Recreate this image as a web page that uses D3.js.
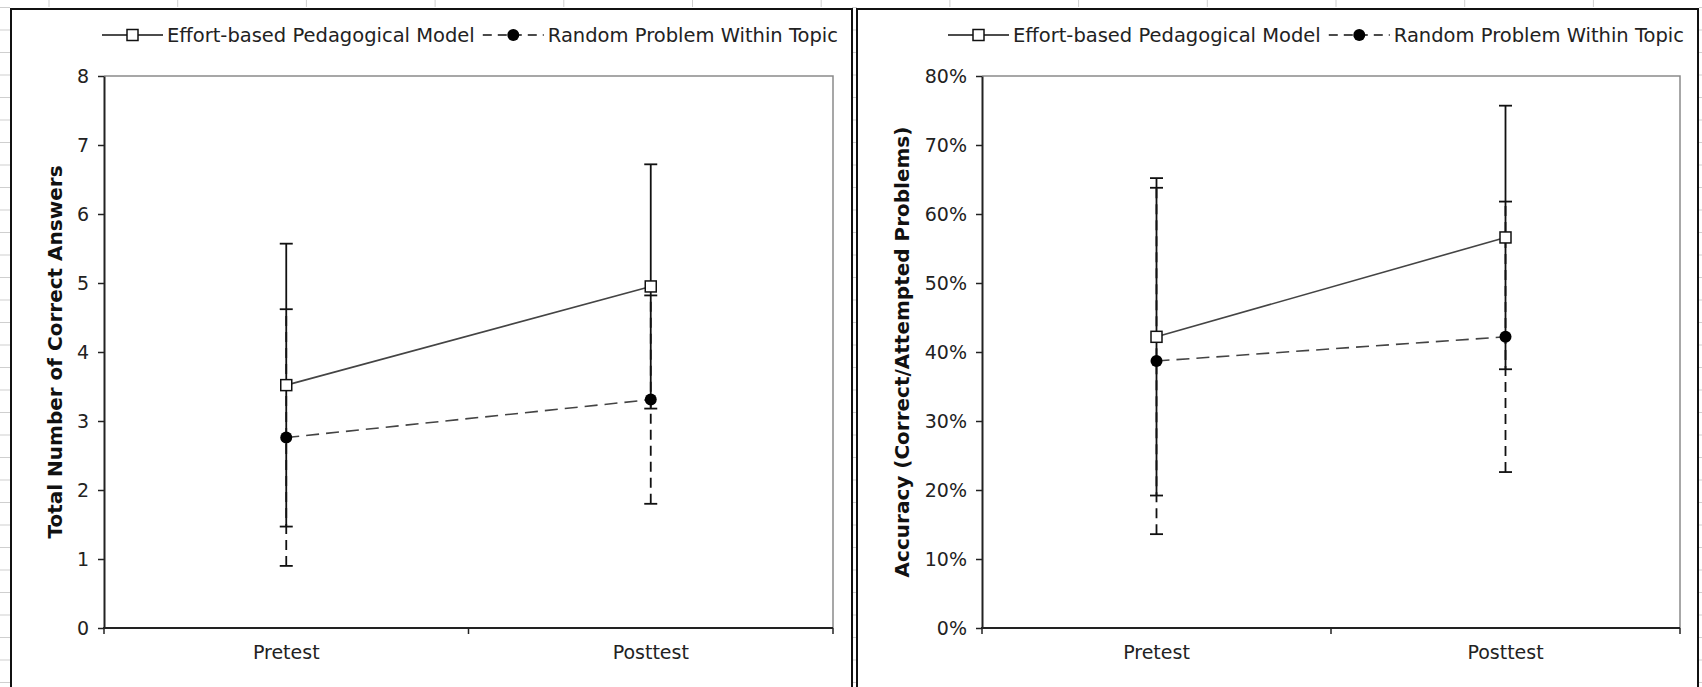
<!DOCTYPE html>
<html>
<head>
<meta charset="utf-8">
<script src="https://cdn.jsdelivr.net/npm/d3@7"></script>
<style>
  body { margin: 0; background: #fff; }
  svg { display: block; font-family: "DejaVu Sans", Verdana, sans-serif; }
</style>
</head>
<body>
<svg id="chart" width="1702" height="687"></svg>
<script>
// data
const tests = ["Pretest", "Posttest"];
const seriesNames = ["Effort-based Pedagogical Model", "Random Problem Within Topic"];

const correctEffort = [3.52, 4.95];
const correctEffortSd = [2.05, 1.77];
const correctRandom = [2.76, 3.31];
const correctRandomSd = [1.86, 1.51];

const accuracyEffort = [0.422, 0.566];
const accuracyEffortSd = [0.230, 0.191];
const accuracyRandom = [0.387, 0.422];
const accuracyRandomSd = [0.251, 0.196];

const correctTicks = [0, 1, 2, 3, 4, 5, 6, 7, 8];
const accuracyTicks = [0, 0.1, 0.2, 0.3, 0.4, 0.5, 0.6, 0.7, 0.8];

const svg = d3.select("#chart");
const ink = "#222";

// faint spreadsheet grid showing around the chart frames
const bg = svg.append("g").attr("stroke", "#cfcfcf").attr("stroke-width", 1);
for (const [a, b] of [[0, 10], [852, 857], [1699, 1702]]) {
  bg.selectAll(null)
    .data(d3.range(7.5, 687, 22.5)).enter()
    .append("line")
    .attr("x1", a).attr("x2", b)
    .attr("y1", d => d).attr("y2", d => d)
}
bg.selectAll(null)
  .data(d3.range(49, 1702, 128.7)).enter()
  .append("line")
  .attr("x1", d => d).attr("x2", d => d)
  .attr("y1", 0).attr("y2", 7)

function drawPanel(p) {
  const g = svg.append("g");

  // outer chart frame
  g.append("rect")
    .attr("x", p.left).attr("y", 9)
    .attr("width", 841).attr("height", 700)
    .attr("fill", "#fff")
    .attr("stroke", "#111")
    .attr("stroke-width", 2)

  const x = d3.scaleBand().domain(tests).range([p.x0, p.x1]);
  const cx = t => x(t) + x.bandwidth() / 2;
  const y = d3.scaleLinear().domain([0, p.max]).range([628, 76]);

  // plot area border (top + right are grey)
  g.append("path")
    .attr("d", `M${p.x0},76H${p.x1}V628`)
    .attr("fill", "none")
    .attr("stroke", "#8a8a8a")
    .attr("stroke-width", 1.5)

  // y axis
  const ya = g.append("g")
    .attr("transform", `translate(${p.x0},0)`)
    .call(d3.axisLeft(y).tickValues(p.ticks).tickFormat(p.fmt).tickSize(6).tickSizeOuter(0).tickPadding(9))
  ya.select(".domain").attr("stroke", ink).attr("stroke-width", 2)
  ya.selectAll(".tick line").attr("stroke", ink).attr("stroke-width", 1.5)
  ya.selectAll(".tick text")
    .attr("fill", ink)
    .style("font-size", "19px")
    .style("font-family", "DejaVu Sans, Verdana, sans-serif")

  // x axis, ticks sit between categories
  g.append("line")
    .attr("x1", p.x0 - 1).attr("x2", p.x1)
    .attr("y1", 628).attr("y2", 628)
    .attr("stroke", ink).attr("stroke-width", 2)
  g.selectAll(null)
    .data([p.x0, p.x0 + x.bandwidth(), p.x1]).enter()
    .append("line")
    .attr("x1", d => d).attr("x2", d => d)
    .attr("y1", 628).attr("y2", 634)
    .attr("stroke", ink).attr("stroke-width", 1.5)
  g.selectAll(null)
    .data(tests).enter()
    .append("text")
    .attr("x", d => cx(d))
    .attr("y", 659)
    .attr("text-anchor", "middle")
    .attr("fill", ink)
    .style("font-size", "19px")
    .text(d => d)

  // axis title
  g.append("text")
    .attr("transform", `translate(${p.titleX},352) rotate(-90)`)
    .attr("text-anchor", "middle")
    .attr("fill", "#111")
    .style("font-size", "20px")
    .style("font-weight", "bold")
    .text(p.title)

  const series = [
    { mean: p.effort, sd: p.effortSd, dash: null, lineDash: null },
    { mean: p.random, sd: p.randomSd, dash: "10,6", lineDash: "13,7" }
  ];

  // error bars
  for (const s of series) {
    tests.forEach((t, i) => {
      const lo = y(s.mean[i] - s.sd[i]), hi = y(s.mean[i] + s.sd[i]);
      g.append("line")
        .attr("x1", cx(t)).attr("x2", cx(t))
        .attr("y1", lo).attr("y2", hi)
        .attr("stroke", "#111").attr("stroke-width", 1.8)
        .attr("stroke-dasharray", s.dash)
      for (const v of [lo, hi]) {
        g.append("line")
          .attr("x1", cx(t) - 6.5).attr("x2", cx(t) + 6.5)
          .attr("y1", v).attr("y2", v)
          .attr("stroke", "#111").attr("stroke-width", 1.8)
      }
    })
  }

  // connecting lines
  const line = d3.line().x((d, i) => cx(tests[i])).y(d => y(d));
  for (const s of series) {
    g.append("path")
      .attr("d", line(s.mean))
      .attr("fill", "none")
      .attr("stroke", "#444")
      .attr("stroke-width", 1.6)
      .attr("stroke-dasharray", s.lineDash)
  }

  // markers
  g.selectAll(null)
    .data(p.effort).enter()
    .append("rect")
    .attr("x", (d, i) => cx(tests[i]) - 5.5)
    .attr("y", d => y(d) - 5.5)
    .attr("width", 11).attr("height", 11)
    .attr("fill", "#fff").attr("stroke", "#111").attr("stroke-width", 1.5)
  g.selectAll(null)
    .data(p.random).enter()
    .append("circle")
    .attr("cx", (d, i) => cx(tests[i]))
    .attr("cy", d => y(d))
    .attr("r", 6)
    .attr("fill", "#000")

  // legend across the top of the frame
  const leg = g.append("g");
  const sym = 61, gap = 4, between = 8;
  const start = p.left + 91;
  const t1 = leg.append("text")
    .attr("x", start + sym + gap).attr("y", 42)
    .style("font-size", "19.5px").attr("fill", ink)
    .text(seriesNames[0]);
  const s2 = start + sym + gap + t1.node().getComputedTextLength() + between;
  leg.append("text")
    .attr("x", s2 + sym + gap).attr("y", 42)
    .style("font-size", "19.5px").attr("fill", ink)
    .text(seriesNames[1]);
  leg.append("line")
    .attr("x1", start).attr("x2", start + sym).attr("y1", 35).attr("y2", 35)
    .attr("stroke", "#111").attr("stroke-width", 1.6)
  leg.append("rect")
    .attr("x", start + sym / 2 - 5.5).attr("y", 29.5)
    .attr("width", 11).attr("height", 11)
    .attr("fill", "#fff").attr("stroke", "#111").attr("stroke-width", 1.5)
  leg.append("line")
    .attr("x1", s2).attr("x2", s2 + sym).attr("y1", 35).attr("y2", 35)
    .attr("stroke", "#111").attr("stroke-width", 1.6)
    .attr("stroke-dasharray", "9,6")
  leg.append("circle")
    .attr("cx", s2 + sym / 2).attr("cy", 35).attr("r", 6).attr("fill", "#000")
}

drawPanel({
  left: 11, x0: 104, x1: 833, max: 8,
  ticks: correctTicks, fmt: d3.format("d"),
  title: "Total Number of Correct Answers", titleX: 62,
  effort: correctEffort, effortSd: correctEffortSd,
  random: correctRandom, randomSd: correctRandomSd
});

drawPanel({
  left: 857, x0: 982, x1: 1680, max: 0.8,
  ticks: accuracyTicks, fmt: d3.format(".0%"),
  title: "Accuracy (Correct/Attempted Problems)", titleX: 909,
  effort: accuracyEffort, effortSd: accuracyEffortSd,
  random: accuracyRandom, randomSd: accuracyRandomSd
});
</script>
</body>
</html>
